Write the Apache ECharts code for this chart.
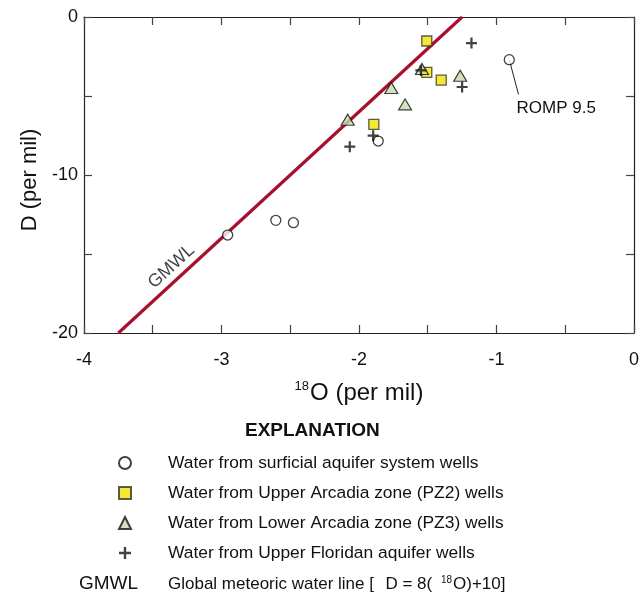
<!DOCTYPE html>
<html>
<head>
<meta charset="utf-8">
<script src="https://cdn.jsdelivr.net/npm/echarts@6/dist/echarts.min.js"></script>
<style>
  html, body { margin: 0; padding: 0; background: #fff; }
  #main { width: 642px; height: 596px; }
</style>
</head>
<body>
<div id="main"></div>
<script>
// values: [d18O, dD] per mil
const surficial = [[-2.955, -13.8], [-2.605, -12.87], [-2.477, -13.02], [-1.86, -7.85], [-0.907, -2.7]]
const pz2 = [[-1.507, -1.52], [-1.507, -3.5], [-1.402, -3.99], [-1.892, -6.8]]
const pz3 = [[-1.542, -3.29], [-1.264, -3.72], [-1.765, -4.49], [-1.665, -5.53], [-2.082, -6.5]]
const ufa = [[-1.182, -1.65], [-1.55, -3.38], [-1.25, -4.43], [-1.897, -7.51], [-2.067, -8.21]]
// GMWL: dD = 8 * d18O + 10, drawn between dD = -20 and dD = 0
const gmwlEnds = [-3.75, -1.25]
const rompLeader = [[-0.907, -2.7], [-0.84, -4.9]]
const seriesNames = [
  "Water from surficial aquifer system wells",
  "Water from Upper Arcadia zone (PZ2) wells",
  "Water from Lower Arcadia zone (PZ3) wells",
  "Water from Upper Floridan aquifer wells"
]

const font = "'Liberation Sans', Arial, sans-serif"
const plusPath = "path://M4,0H6V4H10V6H6V10H4V6H0V4H4Z"

const gmwl = gmwlEnds.map((x) => [x, 8 * x + 10])
const gmwlLabelX = -3.3

const myChart = echarts.init(document.getElementById("main"))

const axisCommon = {
  axisLine: { show: true, onZero: false, lineStyle: { color: "#222", width: 1.2 } },
  axisTick: { show: true, inside: true, length: 8, lineStyle: { color: "#444", width: 1.2 } },
  splitLine: { show: false }
}

const option = {
  animation: false,
  textStyle: { fontFamily: font },
  grid: { left: 84, right: 6, top: 17, bottom: 263 },
  xAxis: [
    {
      type: "value", min: -4, max: 0, interval: 0.5, position: "bottom",
      ...axisCommon,
      axisLabel: {
        fontSize: 18, color: "#111", margin: 18,
        formatter: (v) => (Number.isInteger(v) ? String(v) : "")
      },
      name: "{sup|18}O (per mil)",
      nameLocation: "middle",
      nameGap: 47,
      nameTextStyle: {
        fontSize: 24, color: "#111",
        rich: { sup: { fontSize: 13, verticalAlign: "top", padding: [0, 1, 13, 0] } }
      }
    },
    {
      type: "value", min: -4, max: 0, interval: 0.5, position: "top",
      ...axisCommon,
      axisLabel: { show: false }
    }
  ],
  yAxis: [
    {
      type: "value", min: -20, max: 0, interval: 5, position: "left",
      ...axisCommon,
      axisLabel: {
        fontSize: 18, color: "#111", margin: 6,
        formatter: (v) => (v % 10 === 0 ? String(v) : "")
      },
      name: "D (per mil)",
      nameLocation: "middle",
      nameGap: 42,
      nameTextStyle: { fontSize: 22, color: "#111", padding: [0, 10, 0, 0] }
    },
    {
      type: "value", min: -20, max: 0, interval: 5, position: "right",
      ...axisCommon,
      axisLabel: { show: false }
    }
  ],
  legend: {
    data: seriesNames,
    orient: "vertical",
    left: 113,
    top: 448,
    itemWidth: 12,
    itemHeight: 12,
    itemGap: 10,
    selectedMode: false,
    textStyle: { fontSize: 17.4, color: "#111", lineHeight: 20, padding: [0, 0, 0, 32] }
  },
  graphic: [
    {
      type: "text", left: 245, top: 421,
      style: { text: "EXPLANATION", font: "bold 19px " + font, fill: "#111" }
    },
    {
      type: "text", left: 79, top: 574,
      style: { text: "GMWL", font: "19px " + font, fill: "#111" }
    },
    {
      type: "text", left: 168, top: 575,
      style: {
        text: "Global meteoric water line [ {gap| }D = 8( {sup|18}O)+10]",
        font: "17px " + font, fill: "#111",
        rich: {
          gap: { fontSize: 17, padding: [0, 2, 0, 0] },
          sup: { fontSize: 10, verticalAlign: "top", padding: [0, 1, 9, 4] }
        }
      }
    }
  ],
  series: [
    {
      name: "GMWL",
      type: "line",
      data: gmwl,
      symbol: "none",
      z: 1,
      lineStyle: { color: "#a8102f", width: 3.2 }
    },
    {
      name: "gmwl-label",
      type: "scatter",
      data: [[gmwlLabelX, 8 * gmwlLabelX + 10]],
      symbolSize: 0,
      z: 1,
      label: {
        show: true, formatter: "GMWL", position: "inside", offset: [0, -13],
        rotate: 42.5, fontSize: 18, color: "#111"
      }
    },
    {
      name: "romp-leader",
      type: "line",
      data: rompLeader,
      symbol: "none",
      z: 2,
      lineStyle: { color: "#222", width: 1 },
      endLabel: {
        show: true, formatter: "ROMP 9.5", fontSize: 17, color: "#111",
        offset: [-10, 14], align: "left"
      }
    },
    {
      name: seriesNames[0],
      type: "scatter",
      data: surficial,
      symbol: "circle",
      symbolSize: 10,
      z: 5,
      itemStyle: { color: "#fff", borderColor: "#111", borderWidth: 1.3 }
    },
    {
      name: seriesNames[1],
      type: "scatter",
      data: pz2,
      symbol: "rect",
      symbolSize: 10,
      z: 4,
      itemStyle: { color: "#f3e300", borderColor: "#333", borderWidth: 1.3 }
    },
    {
      name: seriesNames[2],
      type: "scatter",
      data: pz3,
      symbol: "triangle",
      symbolSize: [13, 11],
      z: 4,
      itemStyle: { color: "#c7dcab", borderColor: "#111", borderWidth: 1.2 }
    },
    {
      name: seriesNames[3],
      type: "scatter",
      data: ufa,
      symbol: plusPath,
      symbolSize: 11,
      z: 6,
      itemStyle: { color: "#111" }
    }
  ]
}

myChart.setOption(option)
</script>
</body>
</html>
